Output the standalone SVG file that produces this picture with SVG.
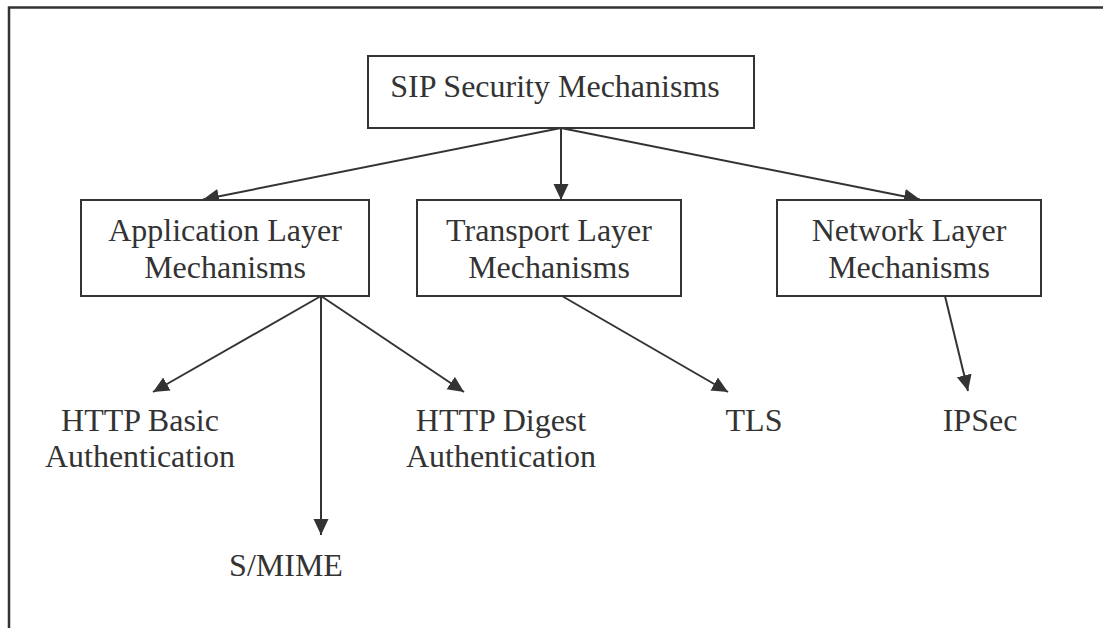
<svg xmlns="http://www.w3.org/2000/svg" width="1103" height="628" viewBox="0 0 1103 628">
<style>
.box{fill:#fff;stroke:#333;stroke-width:2}
.t{font-family:"Liberation Serif","Times New Roman",serif;font-size:32px;fill:#333;text-anchor:middle}
.c{stroke:#333;stroke-width:2;fill:none;marker-end:url(#ah)}
.frame{stroke:#333;stroke-width:2.5;fill:none}
</style>
<defs>
<marker id="ah" markerUnits="userSpaceOnUse" markerWidth="18" markerHeight="16" refX="16" refY="7.5" orient="auto">
<path d="M0,0 L16,7.5 L0,15 Z" fill="#333"/>
</marker>
</defs>
<rect width="1103" height="628" fill="#fff"/>
<path class="frame" d="M9,628 L9,7.5 L1103,7.5"/>
<g id="connectors">
<line class="c" x1="561" y1="128" x2="561" y2="200"/>
<line class="c" x1="561" y1="128" x2="203" y2="199.5"/>
<line class="c" x1="561" y1="128" x2="920" y2="199.5"/>
<line class="c" x1="321" y1="296" x2="153" y2="392"/>
<line class="c" x1="321" y1="296" x2="321" y2="535"/>
<line class="c" x1="321" y1="296" x2="464" y2="392"/>
<line class="c" x1="562" y1="296" x2="728" y2="392"/>
<line class="c" x1="945" y1="296" x2="968" y2="391"/>
</g>
<g id="sip">
<rect class="box" x="368" y="56" width="386" height="72"/>
<text class="t" x="555" y="97">SIP Security Mechanisms</text>
</g>
<g id="application">
<rect class="box" x="81" y="200" width="288" height="96"/>
<text class="t" x="225" y="241">Application Layer</text>
<text class="t" x="225" y="278">Mechanisms</text>
</g>
<g id="transport">
<rect class="box" x="417" y="200" width="264" height="96"/>
<text class="t" x="549" y="241">Transport Layer</text>
<text class="t" x="549" y="278">Mechanisms</text>
</g>
<g id="network">
<rect class="box" x="777" y="200" width="264" height="96"/>
<text class="t" x="909" y="241">Network Layer</text>
<text class="t" x="909" y="278">Mechanisms</text>
</g>
<g id="basic">
<text class="t" x="140" y="431">HTTP Basic</text>
<text class="t" x="140" y="467">Authentication</text>
</g>
<g id="digest">
<text class="t" x="501" y="431">HTTP Digest</text>
<text class="t" x="501" y="467">Authentication</text>
</g>
<g id="smime">
<text class="t" x="286" y="576">S/MIME</text>
</g>
<g id="tls">
<text class="t" x="754" y="431">TLS</text>
</g>
<g id="ipsec">
<text class="t" x="980" y="431">IPSec</text>
</g>
</svg>
